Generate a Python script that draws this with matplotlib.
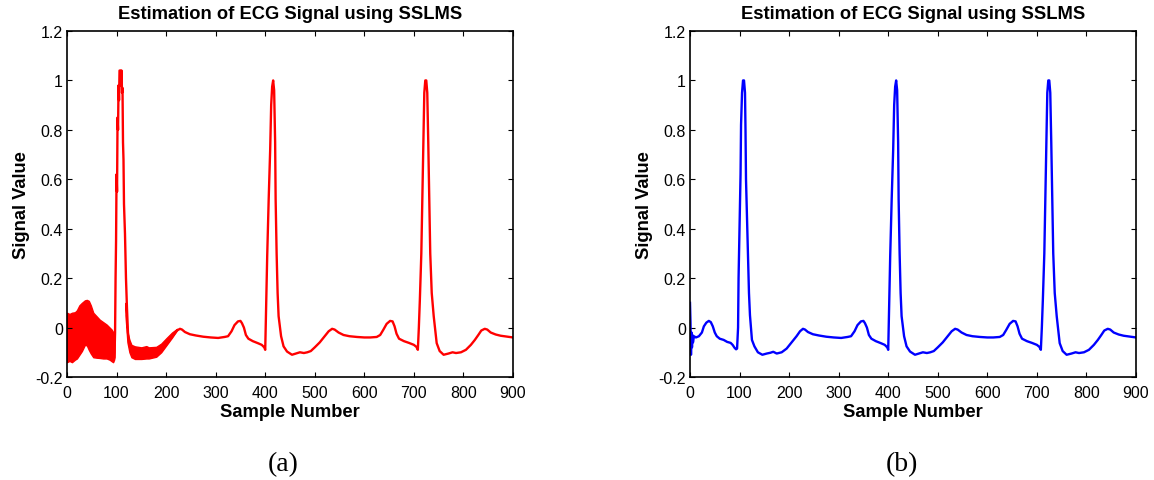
import matplotlib.pyplot as plt
from matplotlib.ticker import FormatStrFormatter, MultipleLocator

plt.rcParams['font.family'] = 'Liberation Sans'
plt.rcParams['axes.unicode_minus'] = False

# SSLMS estimate, clean run (b): sample number -> signal value
samples_b = [0, 1, 2, 3, 4, 5, 6, 8, 12, 18, 24, 28, 33, 38, 42, 46, 50, 54, 60, 68,
             75, 82, 86, 90, 93, 95,
             97, 98, 100, 102, 103, 105, 107, 109, 111, 112, 113, 115, 117, 119, 121,
             125, 130, 137, 146,
             155, 162, 168, 175, 185, 195, 205, 215, 222, 228, 232, 238, 248, 260, 275,
             290, 305, 318, 325, 332, 338, 345, 350, 353, 357, 361, 366, 375, 385, 393, 398,
             400, 402, 404, 407, 410, 412, 414, 416, 418, 420, 421, 423, 425, 427, 432,
             437, 444, 454,
             462, 470, 478, 485, 492, 500, 510, 520, 528, 535, 540, 548, 558, 570, 585,
             600, 612, 625, 632, 638, 645, 652, 657, 661, 665, 670, 680, 690, 700, 705,
             708, 710, 712, 715, 717, 719, 721, 723, 725, 727, 729, 731, 733, 736, 740,
             746, 752, 760,
             770, 778, 785, 795, 805, 815, 823, 830, 836, 843, 848, 855, 865, 875, 890, 900]
values_b = [0.10, 0.02, -0.11, -0.02, -0.08, -0.03, -0.06, -0.035, -0.04, -0.035, -0.02,
            0.005, 0.02, 0.027, 0.022, 0.005, -0.02, -0.035, -0.045, -0.05,
            -0.058, -0.062, -0.07, -0.082, -0.088, -0.085,
            0.0, 0.2, 0.4, 0.62, 0.82, 0.95, 1.0, 1.0, 0.95, 0.8, 0.6, 0.45, 0.3, 0.14, 0.05,
            -0.05, -0.076, -0.1, -0.11,
            -0.105, -0.102, -0.098, -0.105, -0.1, -0.085, -0.06, -0.035, -0.015, -0.005,
            -0.008, -0.018, -0.027, -0.032, -0.037,
            -0.04, -0.042, -0.038, -0.035, -0.015, 0.01, 0.025, 0.027, 0.018, 0.0, -0.03,
            -0.045, -0.055, -0.063, -0.07, -0.08,
            -0.09, 0.11, 0.29, 0.52, 0.72, 0.9, 0.975, 1.0, 0.96, 0.75, 0.52, 0.3, 0.14,
            0.046, -0.035, -0.076, -0.097, -0.11,
            -0.105, -0.1, -0.103, -0.1, -0.095, -0.08, -0.06, -0.035, -0.015, -0.005,
            -0.008, -0.02, -0.03, -0.035, -0.038,
            -0.04, -0.04, -0.038, -0.03, -0.01, 0.015, 0.027, 0.025, 0.005, -0.025, -0.045,
            -0.055, -0.062, -0.07, -0.078,
            -0.09, 0.0, 0.11, 0.3, 0.52, 0.75, 0.95, 1.0, 1.0, 0.95, 0.75, 0.52, 0.3, 0.14,
            0.046, -0.063, -0.095, -0.11,
            -0.105, -0.1, -0.103, -0.1, -0.09, -0.07, -0.05, -0.03, -0.012, -0.005, -0.008,
            -0.02, -0.028, -0.033, -0.037, -0.04]

# (a): first beat while the filter is still converging
samples_a = [95, 96, 97, 98, 99, 100, 101, 102, 103, 104, 105, 106, 108, 109, 110, 111,
             112, 113, 114, 115, 117, 119, 121, 123, 126, 132, 140, 150, 160, 165, 175,
             185, 195, 205, 215, 222, 228]
values_a = [-0.12, -0.1, -0.02, 0.2, 0.35, 0.62, 0.55, 0.85, 0.8, 0.98, 0.92, 1.04, 1.04,
            0.98, 1.04, 0.95, 0.97, 0.75, 0.68, 0.5, 0.38, 0.2, 0.08, -0.02, -0.07, -0.095,
            -0.1, -0.102, -0.1, -0.097, -0.1, -0.095, -0.08, -0.055, -0.03, -0.012, -0.005]

# envelope of the fast ripple before the first R peak
ripple1_x = [0, 5, 10, 16, 20, 25, 30, 36, 40, 44, 48, 53, 60, 66, 73, 80, 86, 90, 93, 95, 96]
ripple1_hi = [0.06, 0.055, 0.06, 0.062, 0.07, 0.09, 0.1, 0.11, 0.112, 0.108, 0.09, 0.06,
              0.045, 0.032, 0.022, 0.012, 0.0, -0.008, -0.018, -0.02, -0.04]
ripple1_lo = [-0.14, -0.135, -0.14, -0.13, -0.125, -0.11, -0.095, -0.07, -0.072, -0.09,
              -0.105, -0.12, -0.122, -0.123, -0.125, -0.125, -0.13, -0.136, -0.14, -0.13, -0.12]

# envelope of the ripple after the first R peak
ripple2_x = [118, 122, 126, 130, 137, 150, 160, 165, 180, 190, 201, 212, 222]
ripple2_hi = [0.1, -0.02, -0.05, -0.07, -0.076, -0.08, -0.075, -0.08, -0.078, -0.065,
              -0.042, -0.02, -0.005]
ripple2_lo = [0.05, -0.06, -0.1, -0.12, -0.127, -0.127, -0.125, -0.125, -0.118, -0.1,
              -0.07, -0.04, -0.01]

x_ticks = [0, 100, 200, 300, 400, 500, 600, 700, 800, 900]

fig = plt.figure(figsize=(11.54, 4.81), dpi=100)
ax1 = fig.add_axes([67 / 1154, 1 - 378 / 481, 446 / 1154, 346 / 481])
ax2 = fig.add_axes([690 / 1154, 1 - 378 / 481, 446 / 1154, 346 / 481])

# left: estimate with start-up ripple
tail = [i for i, s in enumerate(samples_b) if s > 228]
ax1.fill_between(ripple1_x, ripple1_lo, ripple1_hi, color='red', linewidth=1.0, edgecolor='red')
ax1.fill_between(ripple2_x, ripple2_lo, ripple2_hi, color='red', linewidth=1.0, edgecolor='red')
ax1.plot(samples_a + [samples_b[i] for i in tail], values_a + [values_b[i] for i in tail],
         color='red', lw=1.7)

# right: clean estimate
ax2.plot(samples_b, values_b, color='blue', lw=1.7)

for ax in (ax1, ax2):
    ax.set_xlim(0, 900)
    ax.set_ylim(-0.2, 1.2)
    ax.set_xticks(x_ticks)
    ax.yaxis.set_major_locator(MultipleLocator(0.2))
    ax.yaxis.set_major_formatter(FormatStrFormatter('%g'))
    ax.tick_params(direction='in', length=3.5, width=0.8, top=True, right=True,
                   labelsize=11.5, pad=3)
    ax.tick_params(axis='x', pad=6)
    for sp in ax.spines.values():
        sp.set_linewidth(1.2)
    ax.set_title('Estimation of ECG Signal using SSLMS', fontsize=13.2, fontweight='bold', pad=9)
    ax.set_xlabel('Sample Number', fontsize=13.2, fontweight='bold', labelpad=2)
    ax.set_ylabel('Signal Value', fontsize=13.2, fontweight='bold', labelpad=4)

fig.text(283 / 1154, 1 - 465 / 481, '(a)', family='Liberation Serif', fontsize=20,
         ha='center', va='center')
fig.text(902 / 1154, 1 - 465 / 481, '(b)', family='Liberation Serif', fontsize=20,
         ha='center', va='center')

plt.savefig('out.png', dpi=100)
